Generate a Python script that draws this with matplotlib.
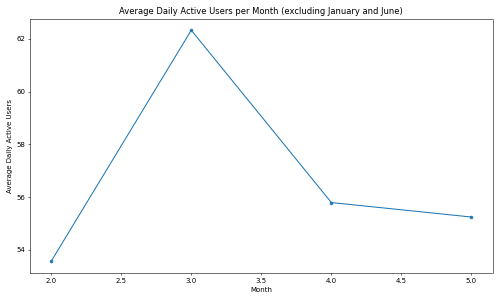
import matplotlib.pyplot as plt

months = [2, 3, 4, 5]
avg_dau = [53.56, 62.33, 55.79, 55.24]

plt.figure(figsize=(10, 6), dpi=50)
plt.plot(months, avg_dau, marker='o', markersize=4, color='#1f77b4')

plt.title("Average Daily Active Users per Month (excluding January and June)")
plt.xlabel("Month")
plt.ylabel("Average Daily Active Users")
plt.tight_layout()

plt.savefig("out.png", dpi=50)
